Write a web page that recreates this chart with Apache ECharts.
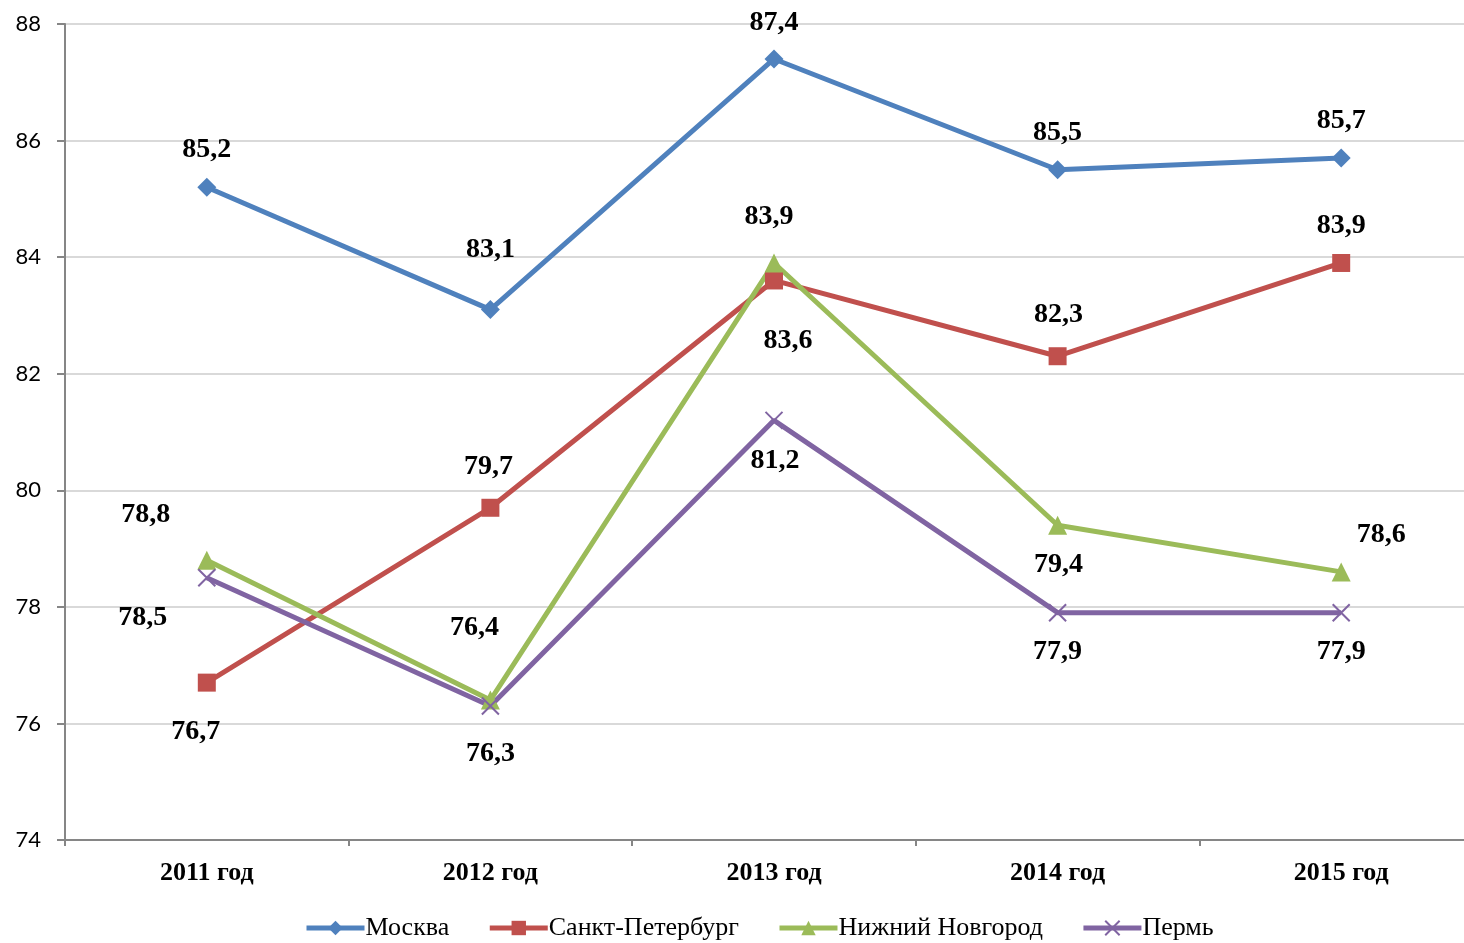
<!DOCTYPE html>
<html><head><meta charset="utf-8">
<script src="https://cdn.jsdelivr.net/npm/echarts@6/dist/echarts.min.js"></script>
<style>html,body{margin:0;padding:0;background:#fff}#c{width:1464px;height:943px}</style>
</head><body><div id="c"></div>
<script>
const categories = ['2011 год','2012 год','2013 год','2014 год','2015 год'];
const moscow = [85.2, 83.1, 87.4, 85.5, 85.7];
const spb = [76.7, 79.7, 83.6, 82.3, 83.9];
const nnov = [78.8, 76.4, 83.9, 79.4, 78.6];
const perm = [78.5, 76.3, 81.2, 77.9, 77.9];
const yTicks = {min: 74, max: 88, interval: 2};

// label offsets (dx, dy) from the point, in pixels
const offMoscow = [[0,-37],[0,-60],[0,-36],[0,-37],[0,-37]];
const offSpb = [[-11,49],[-2,-41],[14,60],[1,-41],[0,-37]];
const offNnov = [[-61,-45],[-16,-72],[-5,-46],[1,40],[40,-37]];
const offPerm = [[-64,40],[0,48],[1,40],[0,39],[0,39]];

const labelFont = {fontFamily:'Liberation Serif', fontWeight:'bold', fontSize:28, color:'#000'};
function mk(vals, offs){
  return vals.map((v,i)=>({value:v, label:Object.assign({show:true, position:'inside', offset:offs[i],
    formatter: p => String(p.value).replace('.', ',')}, labelFont)}));
}
const xPath = 'path://M0,0L10,10M10,0L0,10';
function series(name, vals, offs, color, symbol, size, extra){
  return Object.assign({
    name, type:'line', data: mk(vals, offs), symbol, symbolSize:size,
    lineStyle:{color, width:5}, itemStyle:{color},
    animation:false, z: 2
  }, extra||{});
}
const chart = echarts.init(document.getElementById('c'));
chart.setOption({
  animation:false,
  grid:{left:65, top:24, height:816, width:1418, containLabel:false, outerBoundsMode:'none'},
  xAxis:{type:'category', data:categories, boundaryGap:true,
    axisLine:{lineStyle:{color:'#868686', width:2}},
    axisTick:{show:true, length:6, lineStyle:{color:'#868686', width:2}},
    axisLabel:{fontFamily:'Liberation Serif', fontWeight:'bold', fontSize:26, color:'#000', margin:20}},
  yAxis:{type:'value', min:yTicks.min, max:yTicks.max, interval:yTicks.interval,
    axisLine:{show:true, lineStyle:{color:'#868686', width:2}},
    axisTick:{show:true, length:8, lineStyle:{color:'#868686', width:2}},
    splitLine:{lineStyle:{color:'#D9D9D9', width:2}},
    axisLabel:{fontFamily:'Lato', fontSize:22, color:'#000', margin:24}},
  legend:{bottom:-3, left:299, itemWidth:58, itemHeight:18, itemGap:38,
    lineStyle:{width:5},
    textStyle:{fontFamily:'Liberation Serif', fontSize:26, color:'#000', padding:[0,0,0,-4]},
    data:['Москва','Санкт-Петербург','Нижний Новгород','Пермь']},
  series:[
    series('Москва', moscow, offMoscow, '#4F81BD', 'diamond', 19),
    series('Санкт-Петербург', spb, offSpb, '#C0504D', 'rect', 18),
    series('Нижний Новгород', nnov, offNnov, '#9BBB59', 'triangle', 19),
    series('Пермь', perm, offPerm, '#8064A2', xPath, 17, {itemStyle:{color:'#8064A2', borderColor:'#8064A2', borderWidth:2}})
  ]
});
</script></body></html>
